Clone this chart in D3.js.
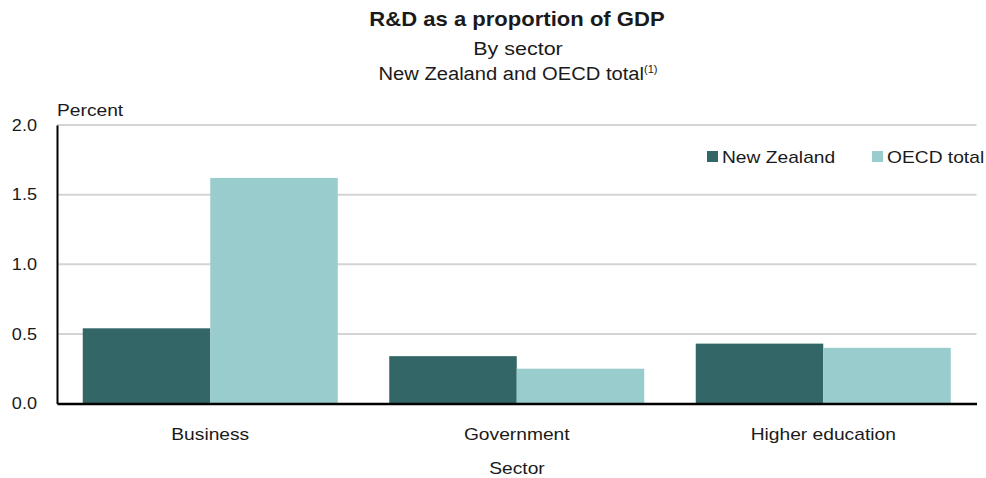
<!DOCTYPE html>
<html>
<head>
<meta charset="utf-8">
<script src="https://d3js.org/d3.v7.min.js"></script>
<style>
  body { margin: 0; background: #fff; }
  svg text { font-family: "Liberation Sans", Arial, sans-serif; fill: #1a1a1a; }
</style>
</head>
<body>
<svg width="986" height="478"></svg>
<script>
// chart data
var sectors = ["Business", "Government", "Higher education"];
var seriesNames = ["New Zealand", "OECD total"];
var newZealand = [0.54, 0.34, 0.43];
var oecdTotal = [1.62, 0.25, 0.40];
var yTicks = [0, 0.5, 1.0, 1.5, 2.0];
var colors = ["#336666", "#99cccc"];

var svg = d3.select("svg"),
    width = +svg.attr("width"),
    height = +svg.attr("height");

var plotLeft = 57, plotRight = 976.5, plotTop = 125, plotBottom = 403.5;

var x = d3.scaleBand()
    .domain(sectors)
    .range([plotLeft, plotRight])
    .paddingInner(0.168)
    .paddingOuter(0.084);

var xs = d3.scaleBand()
    .domain(seriesNames)
    .range([0, x.bandwidth()]);

var y = d3.scaleLinear()
    .domain([0, 2])
    .range([plotBottom, plotTop]);

// gridlines
svg.append("g")
    .attr("class", "grid")
  .selectAll("line")
  .data(yTicks.slice(1))
  .enter().append("line")
    .attr("x1", plotLeft)
    .attr("x2", plotRight)
    .attr("y1", function(d) { return y(d); })
    .attr("y2", function(d) { return y(d); })
    .attr("stroke", "#d4d4d4")
    .attr("stroke-width", 2);

// bars
var rows = sectors.map(function(s, i) {
  return { sector: s, values: [newZealand[i], oecdTotal[i]] };
});

var group = svg.append("g")
  .selectAll("g")
  .data(rows)
  .enter().append("g")
    .attr("transform", function(d) { return "translate(" + x(d.sector) + ",0)"; });

group.selectAll("rect")
  .data(function(d) { return d.values.map(function(v, j) { return { name: seriesNames[j], value: v, k: j }; }); })
  .enter().append("rect")
    .attr("x", function(d) { return xs(d.name); })
    .attr("width", xs.bandwidth())
    .attr("y", function(d) { return y(d.value); })
    .attr("height", function(d) { return plotBottom - y(d.value); })
    .attr("fill", function(d) { return colors[d.k]; });

// y axis
var yAxis = svg.append("g")
    .attr("transform", "translate(" + plotLeft + ",0)")
    .call(d3.axisLeft(y).tickValues(yTicks).tickFormat(d3.format(".1f")).tickSize(0).tickPadding(20));
yAxis.select(".domain").attr("stroke", "#000").attr("stroke-width", 2);
yAxis.selectAll("text").style("font-size", "16px").attr("fill", "#1a1a1a").classed("wide", true);

// x axis
var xAxis = svg.append("g")
    .attr("transform", "translate(0," + plotBottom + ")")
    .call(d3.axisBottom(x).tickSize(0).tickPadding(24));
xAxis.select(".domain").attr("stroke", "#000").attr("stroke-width", 2.5);
xAxis.selectAll("text").style("font-size", "17px").attr("fill", "#1a1a1a").classed("wide", true);

// titles
svg.append("text")
    .attr("x", 517).attr("y", 26)
    .attr("text-anchor", "middle")
    .style("font-size", "21px").style("font-weight", "bold")
    .attr("data-stretch", 1.05)
    .text("R&D as a proportion of GDP");

svg.append("text")
    .attr("x", 518).attr("y", 55)
    .attr("text-anchor", "middle")
    .style("font-size", "19px")
    .classed("wide", true)
    .text("By sector");

var sub = svg.append("text")
    .attr("x", 518).attr("y", 80)
    .attr("text-anchor", "middle")
    .style("font-size", "18px");
sub.append("tspan").text("New Zealand and OECD total");
sub.append("tspan").attr("dy", -7).style("font-size", "11px").text("(1)");

svg.append("text")
    .attr("x", 57).attr("y", 116)
    .style("font-size", "17px")
    .classed("wide", true)
    .text("Percent");

svg.append("text")
    .attr("x", 517).attr("y", 474)
    .attr("text-anchor", "middle")
    .style("font-size", "17px")
    .classed("wide", true)
    .text("Sector");

// legend
var legendX = [707, 872];
var legend = svg.append("g")
  .selectAll("g")
  .data(seriesNames)
  .enter().append("g")
    .attr("transform", function(d, i) { return "translate(" + legendX[i] + ",151)"; });

legend.append("rect")
    .attr("width", 11).attr("height", 11)
    .attr("fill", function(d, i) { return colors[i]; });

legend.append("text")
    .attr("x", 15).attr("y", 12)
    .style("font-size", "17px")
    .classed("wide", true)
    .text(function(d) { return d; });

// reference glyphs look horizontally stretched; widen text to match
svg.selectAll("text.wide").each(function() {
  var len = this.getComputedTextLength();
  d3.select(this).attr("textLength", len * 1.13).attr("lengthAdjust", "spacingAndGlyphs");
});
svg.selectAll("text[data-stretch]").each(function() {
  var len = this.getComputedTextLength();
  d3.select(this).attr("textLength", len * +this.getAttribute("data-stretch")).attr("lengthAdjust", "spacingAndGlyphs");
});
sub.select("tspan").each(function() {
  var len = this.getComputedTextLength();
  d3.select(this).attr("textLength", len * 1.12).attr("lengthAdjust", "spacingAndGlyphs");
});
</script>
</body>
</html>
